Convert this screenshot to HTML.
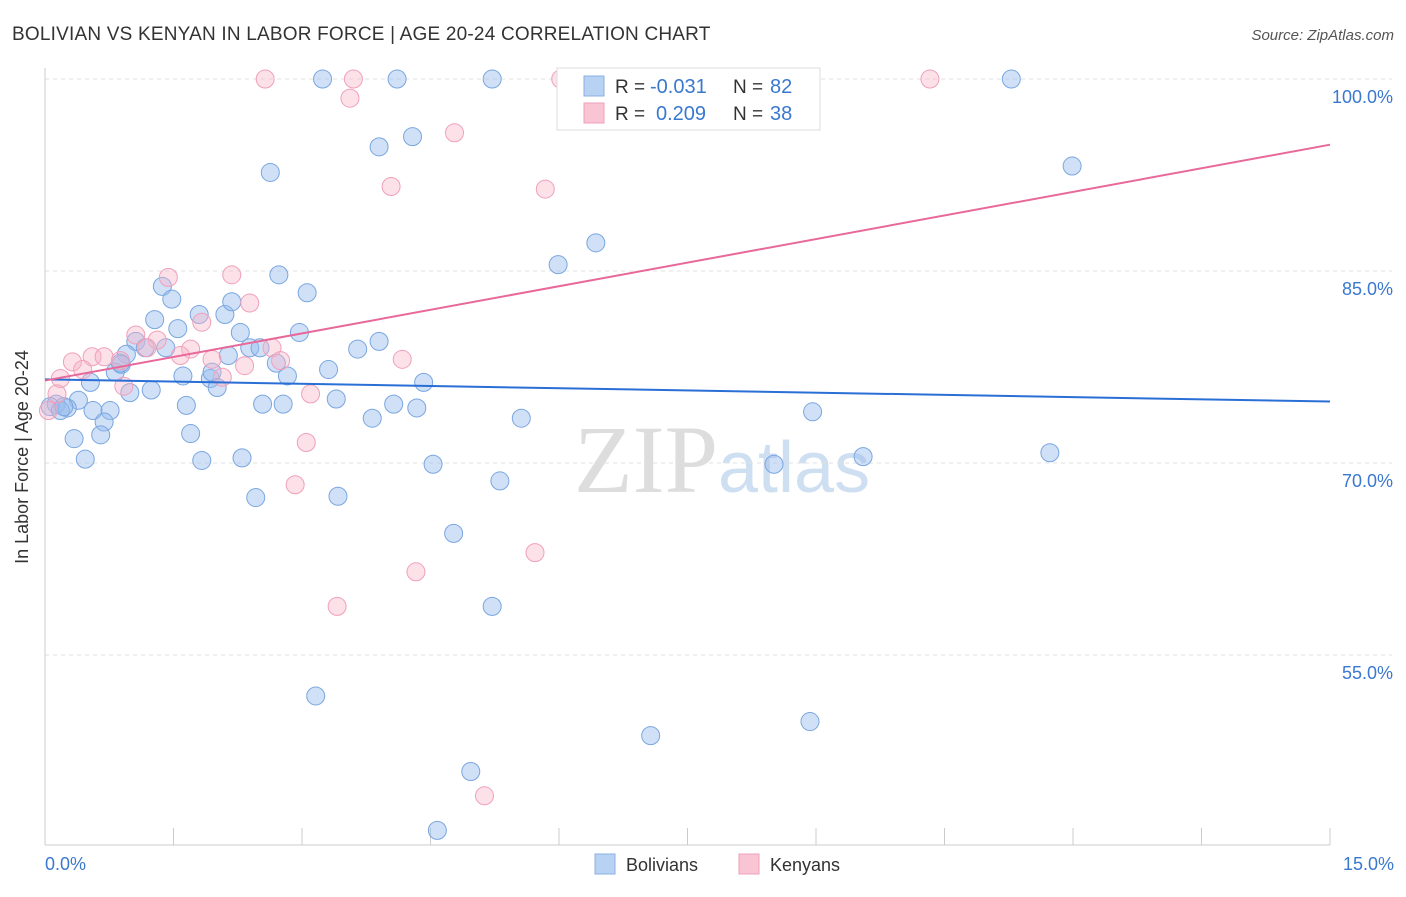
<!DOCTYPE html>
<html><head><meta charset="utf-8"><style>
body{margin:0;background:#fff;font-family:"Liberation Sans",sans-serif}
</style></head><body>
<svg width="1406" height="892" xmlns="http://www.w3.org/2000/svg">
<text x="12" y="40" font-size="19" letter-spacing="0.2" fill="#333">BOLIVIAN VS KENYAN IN LABOR FORCE | AGE 20-24 CORRELATION CHART</text>
<text x="1394" y="40" font-size="15" font-style="italic" fill="#555" text-anchor="end">Source: ZipAtlas.com</text>
<text x="718" y="492" font-size="96" font-family="Liberation Serif,serif" fill="#ddd" text-anchor="end">ZIP</text>
<text x="718" y="492" font-size="72" fill="#cfdff2">atlas</text>
<g id="grid"></g>
<g id="axes"></g>
<g id="pts"></g>
<g id="trend"></g>
<text x="28" y="457" font-size="18" fill="#333" text-anchor="middle" transform="rotate(-90 28 457)">In Labor Force | Age 20-24</text>
<g>
<rect x="557" y="68" width="263" height="62" fill="#fff" stroke="#ddd"/>
<rect x="584" y="76" width="20" height="20" fill="#b8d2f4" stroke="#8ab0e4"/>
<rect x="584" y="103" width="20" height="20" fill="#f9c4d4" stroke="#eea0b8"/>
<text x="615" y="93" font-size="19" fill="#333">R =</text>
<text x="650" y="93" font-size="20" fill="#3a78d0">-0.031</text>
<text x="733" y="93" font-size="19" fill="#333">N =</text>
<text x="770" y="93" font-size="20" fill="#3a78d0">82</text>
<text x="615" y="120" font-size="19" fill="#333">R =</text>
<text x="656" y="120" font-size="20" fill="#3a78d0">0.209</text>
<text x="733" y="120" font-size="19" fill="#333">N =</text>
<text x="770" y="120" font-size="20" fill="#3a78d0">38</text>
</g>
<g>
<rect x="595" y="854" width="20" height="20" fill="#b8d2f4" stroke="#8ab0e4"/>
<text x="626" y="871" font-size="18" fill="#333">Bolivians</text>
<rect x="739" y="854" width="20" height="20" fill="#f9c4d4" stroke="#eea0b8"/>
<text x="770" y="871" font-size="18" fill="#333">Kenyans</text>
</g>
</svg>
<script>
const xTicks=[0,15];
const yTicks=[55,70,85,100];
const bolX=[3.24,4.11,5.22,11.28,4.29,3.90,11.99,2.63,6.43,5.99,2.73,3.06,1.37,1.48,1.28,1.55,1.80,2.10,2.18,2.28,2.97,1.06,1.17,1.41,0.95,0.89,2.39,2.51,2.14,3.65,3.90,2.70,0.82,1.61,1.93,1.95,2.83,3.31,0.53,0.99,1.24,2.01,4.42,0.39,0.13,0.26,0.56,0.76,1.65,2.54,2.78,3.40,4.07,4.34,0.69,3.82,5.56,8.96,0.34,0.65,1.70,0.47,1.83,2.30,4.53,9.55,8.51,11.73,5.31,2.46,3.42,4.77,5.22,3.16,8.93,7.07,4.97,4.58,0.06,0.18,0.22,0.88];
const bolY=[100,100,100,100,95.5,94.7,93.2,92.7,87.2,85.5,84.7,83.3,83.8,82.8,81.2,80.5,81.6,81.6,82.6,80.2,80.2,79.5,79.0,79.0,78.5,77.7,79.0,79.0,78.4,78.9,79.5,77.8,77.1,76.8,76.6,77.1,76.8,77.3,76.3,75.5,75.7,75.9,76.3,74.9,74.6,74.3,74.1,74.1,74.5,74.6,74.6,75.0,74.6,74.3,73.2,73.5,73.5,74.0,71.9,72.2,72.3,70.3,70.2,70.4,69.9,70.5,69.9,70.8,68.6,67.3,67.4,64.5,58.8,51.8,49.8,48.7,45.9,41.3,74.4,74.1,74.4,77.8];
const kenX=[2.57,3.60,3.56,6.02,10.33,4.78,4.04,5.84,1.44,2.18,2.39,1.83,1.06,1.31,1.19,1.70,1.58,0.32,0.55,0.69,0.44,0.88,1.95,2.33,2.65,2.75,4.17,0.18,0.92,2.07,0.14,3.10,3.05,2.92,5.72,4.33,3.41,5.13,0.04];
const kenY=[100,100,98.5,100,100,95.8,91.6,91.4,84.5,84.7,82.5,81.0,80.0,79.6,79.0,78.9,78.4,77.9,78.3,78.3,77.3,78.0,78.1,77.6,79.0,78.0,78.1,76.6,76.0,76.7,75.4,75.4,71.6,68.3,63.0,61.5,58.8,44.0,74.1];
const X=v=>45+v*1285/15, Y=v=>79+(100-v)*12.8;
const NS="http://www.w3.org/2000/svg";
function mk(p,t,a){const e=document.createElementNS(NS,t);for(const k in a)e.setAttribute(k,a[k]);document.getElementById(p).appendChild(e);return e;}
yTicks.forEach(v=>{const l=mk('grid','line',{x1:45,x2:1392,y1:Y(v),y2:Y(v),stroke:'#e0e0e0','stroke-dasharray':'4,4'});


const t=mk('grid','text',{x:1393,y:Y(v)+24,'font-size':18,fill:'#3a78d0','text-anchor':'end'});t.textContent=v.toFixed(1)+'%';

});
mk('axes','line',{x1:45,x2:45,y1:68,y2:845,stroke:'#ccc'});
mk('axes','line',{x1:45,x2:1330,y1:845,y2:845,stroke:'#ccc'});
for(let i=0;i<=10;i++){const x=X(i*1.5);mk('axes','line',{x1:x,x2:x,y1:828,y2:845,stroke:'#ccc'});}
xTicks.forEach((v,i)=>{const t=mk('axes','text',{x:i?1394:45,y:870,'font-size':18,fill:'#3a78d0','text-anchor':i?'end':'start'});t.textContent=v.toFixed(1)+'%';

});
bolX.forEach((v,i)=>{const c=mk('pts','circle',{cx:X(v),cy:Y(bolY[i]),r:9,fill:'rgba(150,188,238,0.45)',stroke:'#7aa6e0','stroke-width':1});

});
kenX.forEach((v,i)=>{const c=mk('pts','circle',{cx:X(v),cy:Y(kenY[i]),r:9,fill:'rgba(248,180,200,0.4)',stroke:'#f0a0bb','stroke-width':1});

});
function fit(xs,ys){const n=xs.length,mx=xs.reduce((a,b)=>a+b)/n,my=ys.reduce((a,b)=>a+b)/n;let sxy=0,sxx=0;xs.forEach((x,i)=>{sxy+=(x-mx)*(ys[i]-my);sxx+=(x-mx)**2});const b=sxy/sxx;return[my-b*mx,b];}
[[bolX,bolY,'#2a6fd6','bolivian-trend-line'],[kenX,kenY,'#e8689a','kenyan-trend-line']].forEach(([xs,ys,c,n])=>{const[a,b]=fit(xs,ys);
const l=mk('trend','line',{x1:X(0),y1:Y(a),x2:X(15),y2:Y(a+b*15),stroke:c,'stroke-width':2});

});
</script>
</body></html>
